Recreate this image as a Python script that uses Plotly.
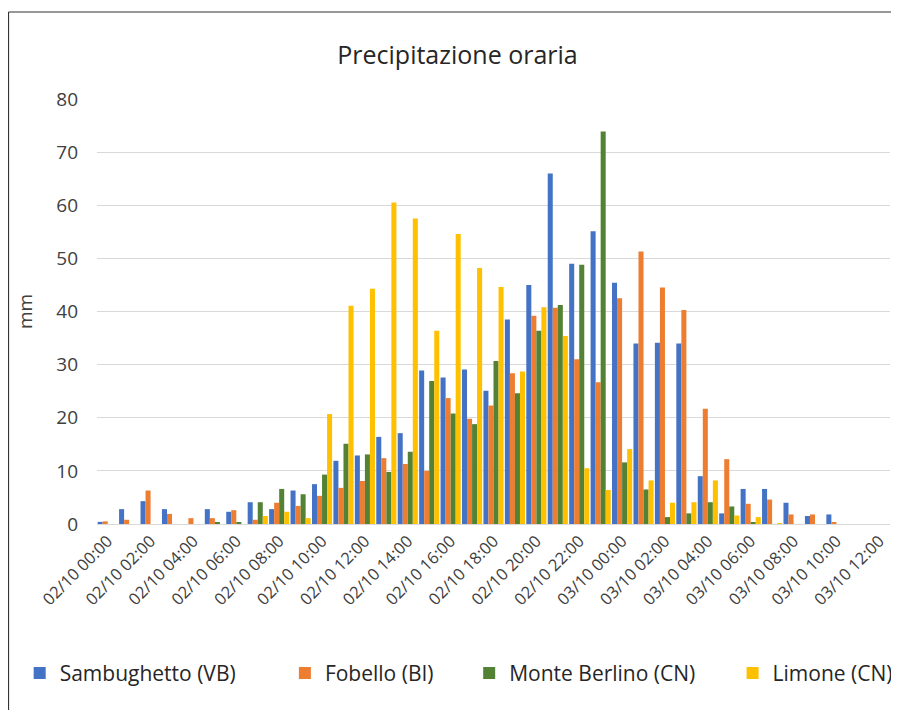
import plotly.graph_objects as go

# hourly categories 02/10 00:00 -> 03/10 12:00
ore = [
    "02/10 00:00", "02/10 01:00", "02/10 02:00", "02/10 03:00", "02/10 04:00",
    "02/10 05:00", "02/10 06:00", "02/10 07:00", "02/10 08:00", "02/10 09:00",
    "02/10 10:00", "02/10 11:00", "02/10 12:00", "02/10 13:00", "02/10 14:00",
    "02/10 15:00", "02/10 16:00", "02/10 17:00", "02/10 18:00", "02/10 19:00",
    "02/10 20:00", "02/10 21:00", "02/10 22:00", "02/10 23:00", "03/10 00:00",
    "03/10 01:00", "03/10 02:00", "03/10 03:00", "03/10 04:00", "03/10 05:00",
    "03/10 06:00", "03/10 07:00", "03/10 08:00", "03/10 09:00", "03/10 10:00",
    "03/10 11:00", "03/10 12:00",
]

sambughetto = [0.4, 2.8, 4.3, 2.8, 0, 2.8, 2.3, 4.1, 2.8, 6.3,
               7.5, 11.9, 12.9, 16.4, 17.1, 28.9, 27.6, 29.1, 25.1, 38.5,
               45.0, 66.0, 49.0, 55.1, 45.4, 34.0, 34.1, 34.0, 9.0, 2.0,
               6.6, 6.6, 4.0, 1.5, 1.8, 0, 0]
fobello = [0.5, 0.8, 6.3, 1.9, 1.1, 1.1, 2.6, 0.8, 4.0, 3.4,
           5.3, 6.8, 8.1, 12.4, 11.3, 10.0, 23.7, 19.8, 22.3, 28.4,
           39.2, 40.7, 31.0, 26.7, 42.5, 51.3, 44.5, 40.3, 21.7, 12.2,
           3.8, 4.6, 1.8, 1.8, 0.3, 0, 0]
monte_berlino = [0, 0, 0, 0, 0, 0.3, 0.2, 4.1, 6.6, 5.6,
                 9.3, 15.1, 13.1, 9.8, 13.6, 26.9, 20.8, 18.8, 30.7, 24.6,
                 36.4, 41.2, 48.8, 73.9, 11.6, 6.5, 1.3, 2.0, 4.1, 3.3,
                 0.3, 0, 0, 0, 0, 0, 0]
limone = [0, 0, 0, 0, 0, 0, 0, 1.5, 2.3, 1.1,
          20.7, 41.1, 44.3, 60.5, 57.5, 36.4, 54.6, 48.2, 44.6, 28.7,
          40.8, 35.4, 10.5, 6.4, 14.1, 8.2, 4.0, 4.1, 8.2, 1.6,
          1.3, 0.1, 0, 0, 0, 0, 0]

serie = [
    ("Sambughetto (VB)", sambughetto, "#4472C4", "legend", 0.013),
    ("Fobello (BI)", fobello, "#ED7D31", "legend2", 0.308),
    ("Monte Berlino (CN)", monte_berlino, "#548235", "legend3", 0.513),
    ("Limone (CN)", limone, "#FFC000", "legend4", 0.806),
]

FONT = "Open Sans, Lato, sans-serif"

fig = go.Figure()
for nome, valori, colore, leg, _ in serie:
    fig.add_trace(go.Bar(x=ore, y=valori, name=nome, marker_color=colore,
                         marker_line_width=0, legend=leg))

# one legend per series, placed like the original
legends = {}
for nome, valori, colore, leg, xpos in serie:
    legends[leg] = dict(
        orientation="h", xref="container", yref="container",
        x=xpos, y=0.063, xanchor="left", yanchor="middle",
        font=dict(family=FONT, size=21, color="#262626"),
        bgcolor="rgba(0,0,0,0)", itemwidth=30,
    )

# thin frame: top and left edges (as in the source image)
frame = [
    dict(type="line", xref="paper", yref="paper",
         x0=-88.5 / 793, x1=3, y0=512 / 425, y1=512 / 425,
         line=dict(color="#333333", width=1.2)),
    dict(type="line", xref="paper", yref="paper",
         x0=-88.5 / 793, x1=-88.5 / 793, y0=-1, y1=512 / 425,
         line=dict(color="#333333", width=1.2)),
]

fig.update_layout(
    width=899, height=710,
    margin=dict(l=89, r=17, t=91, b=194),
    paper_bgcolor="white", plot_bgcolor="white",
    font=dict(family=FONT, color="#404040"),
    bargap=0.06, bargroupgap=0,
    title=dict(text="Precipitazione oraria", x=0.5, xanchor="center",
               xref="container", y=0.934, yref="container", yanchor="middle",
               font=dict(family=FONT, size=25, color="#262626")),
    showlegend=True,
    shapes=frame,
    **legends,
)

fig.update_yaxes(range=[0, 80], dtick=10, showgrid=True, gridcolor="#D9D9D9",
                 gridwidth=1, zeroline=False, showline=False,
                 tickfont=dict(family=FONT, size=19, color="#404040"),
                 ticklabelstandoff=18,
                 title=dict(text="mm", standoff=18,
                            font=dict(family=FONT, size=19, color="#404040")))
fig.update_xaxes(type="category", dtick=2, tickangle=-45, showgrid=False,
                 showline=True, linecolor="#D9D9D9", linewidth=1,
                 ticks="", tickfont=dict(family=FONT, size=16.5, color="#404040"))

fig.write_html("out.html")
